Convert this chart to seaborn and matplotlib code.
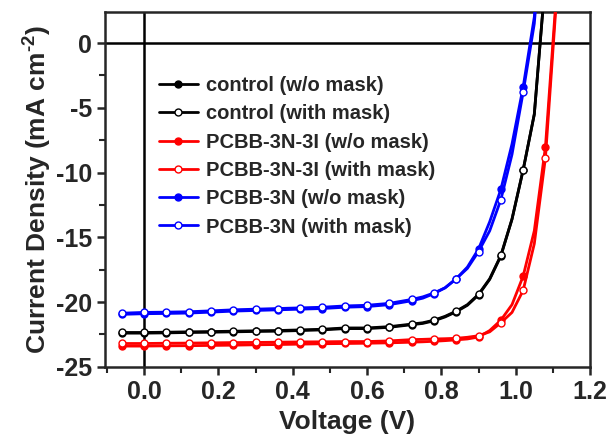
import numpy as np
import pandas as pd
import seaborn as sns
import matplotlib.pyplot as plt
from matplotlib.ticker import MultipleLocator

# Voltage grid (V): 0.06 V steps, 0.03 V steps through the knee
voltage = [-0.06, 0.00, 0.06, 0.12, 0.18, 0.24, 0.30, 0.36, 0.42, 0.48, 0.54, 0.60,
           0.66, 0.72, 0.75, 0.78, 0.81, 0.84, 0.87, 0.90, 0.93, 0.96, 0.99, 1.02,
           1.05, 1.08, 1.11, 1.14]

# Current density (mA cm-2)
control_wo = [-22.40, -22.40, -22.38, -22.35, -22.33, -22.30, -22.27, -22.25, -22.20, -22.15,
              -22.05, -22.05, -21.95, -21.75, -21.65, -21.45, -21.15, -20.75, -20.25, -19.45,
              -18.25, -16.45, -13.60, -9.80, -5.50, 5.0, 20.0, 30.0]
control_with = [-22.35, -22.35, -22.33, -22.30, -22.28, -22.25, -22.22, -22.20, -22.15, -22.10,
                -22.00, -22.00, -21.90, -21.70, -21.60, -21.40, -21.10, -20.70, -20.20, -19.40,
                -18.20, -16.40, -13.60, -9.80, -5.50, 5.0, 20.0, 30.0]
pcbb3n3i_wo = [-23.40, -23.40, -23.38, -23.37, -23.35, -23.33, -23.30, -23.28, -23.25, -23.22,
               -23.20, -23.18, -23.15, -23.10, -23.07, -23.03, -22.98, -22.92, -22.85, -22.70,
               -22.20, -21.40, -20.20, -18.00, -14.50, -8.00, 4.00, 20.0]
pcbb3n3i_with = [-23.20, -23.20, -23.18, -23.17, -23.15, -23.13, -23.12, -23.10, -23.08, -23.07,
                 -23.05, -23.05, -23.00, -22.90, -22.88, -22.85, -22.83, -22.80, -22.72, -22.60,
                 -22.30, -21.60, -20.80, -19.10, -15.50, -8.85, 3.50, 20.0]
pcbb3n_wo = [-20.95, -20.90, -20.88, -20.85, -20.78, -20.70, -20.65, -20.60, -20.55, -20.50,
             -20.40, -20.35, -20.20, -19.90, -19.70, -19.35, -18.90, -18.20, -17.30, -15.90,
             -13.80, -11.30, -7.80, -3.40, 2.00, 12.0, 25.0, 30.0]
pcbb3n_with = [-20.86, -20.80, -20.78, -20.75, -20.68, -20.60, -20.55, -20.50, -20.45, -20.40,
               -20.30, -20.25, -20.10, -19.80, -19.60, -19.30, -18.90, -18.20, -17.40, -16.10,
               -14.50, -12.10, -8.60, -3.80, 1.50, 12.0, 25.0, 30.0]

labels = ["control (w/o mask)", "control (with mask)",
          "PCBB-3N-3I (w/o mask)", "PCBB-3N-3I (with mask)",
          "PCBB-3N (w/o mask)", "PCBB-3N (with mask)"]
series = [control_wo, control_with, pcbb3n3i_wo, pcbb3n3i_with, pcbb3n_wo, pcbb3n_with]
colors = ["black", "black", "red", "red", "blue", "blue"]

sns.set_style("ticks")
plt.rcParams['font.family'] = ['Liberation Sans', 'DejaVu Sans']
plt.rcParams['font.weight'] = 'bold'
plt.rcParams['axes.unicode_minus'] = False
plt.rcParams['mathtext.fontset'] = 'custom'
plt.rcParams['mathtext.rm'] = 'Liberation Sans:bold'
plt.rcParams['mathtext.bf'] = 'Liberation Sans:bold'

fig, ax = plt.subplots(figsize=(6.14, 4.43), dpi=100)
fig.subplots_adjust(left=0.171, right=0.961, bottom=0.172, top=0.973)

# markers only on the 0.06 V grid
v = np.array(voltage)
mark_idx = [i for i, x in enumerate(v) if abs(round(x / 0.06) * 0.06 - x) < 1e-6]

ax.axhline(0, color="black", lw=1.8, zorder=1)
ax.axvline(0, color="black", lw=1.8, zorder=1)

for lab, y, c in zip(labels, series, colors):
    df = pd.DataFrame({"V": voltage, "J": y})
    open_marker = "with" in lab
    sns.lineplot(data=df, x="V", y="J", ax=ax, color=c, lw=2.0, label=lab,
                 marker="o", markersize=5.0, markevery=mark_idx,
                 markerfacecolor="white" if open_marker else c,
                 markeredgecolor=c, markeredgewidth=1.0, sort=False, zorder=3)

ax.set_xlim(-0.105, 1.2)
ax.set_ylim(-25, 2.4)
ax.xaxis.set_major_locator(MultipleLocator(0.2))
ax.xaxis.set_minor_locator(MultipleLocator(0.1))
ax.yaxis.set_major_locator(MultipleLocator(5))
ax.yaxis.set_minor_locator(MultipleLocator(2.5))
ax.tick_params(which="major", direction="out", length=6, width=1.8, labelsize=18)
ax.tick_params(which="minor", direction="out", length=4, width=1.5)
for lbl in ax.get_xticklabels() + ax.get_yticklabels():
    lbl.set_fontweight("bold")
for s in ax.spines.values():
    s.set_linewidth(1.8)

ax.set_xlabel("Voltage (V)", fontsize=19, fontweight="bold", labelpad=4)
ax.set_ylabel("Current Density (mA cm$^{\\text{-2}}$)", fontsize=19,
              fontweight="bold", labelpad=2)

leg = ax.legend(loc="upper left", bbox_to_anchor=(0.111, 0.819), frameon=False,
                fontsize=14.5, handlelength=1.95, handletextpad=0.4,
                labelspacing=0.46, borderpad=0, borderaxespad=0)
for t in leg.get_texts():
    t.set_fontweight("bold")

fig.savefig("out.png", dpi=100)
